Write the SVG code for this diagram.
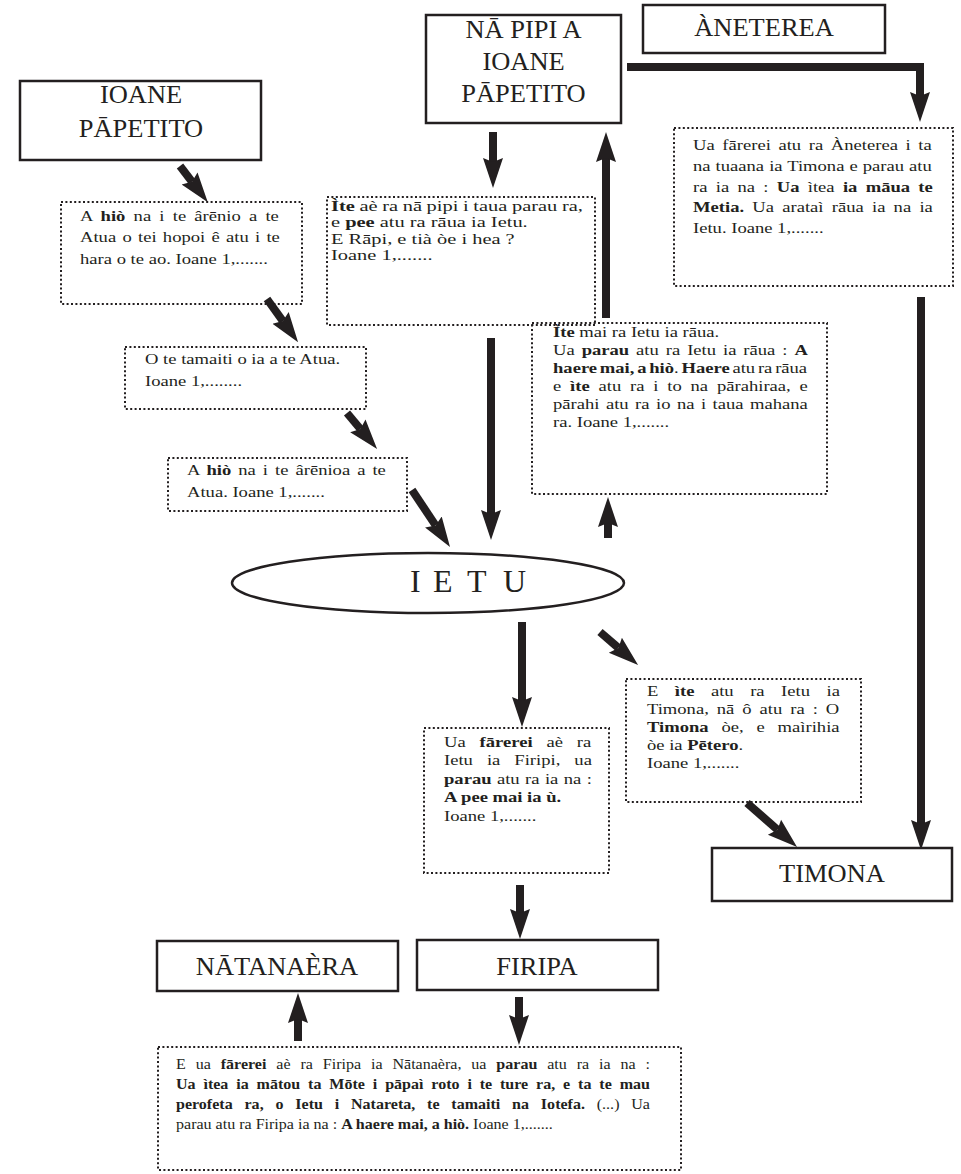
<svg xmlns="http://www.w3.org/2000/svg" width="961" height="1174" viewBox="0 0 961 1174">
<style>
.t{font-family:"Liberation Serif","Times New Roman",serif;font-size:15.5px;fill:#231f20}
.s14{font-size:14.8px}
.s15{font-size:15px}
.b{font-weight:bold}
.ti{font-family:"Liberation Serif","Times New Roman",serif;font-size:24.5px;fill:#231f20;text-anchor:middle}
.box{fill:#fff;stroke:#231f20;stroke-width:2.5}
.dot{fill:none;stroke:#231f20;stroke-width:2;stroke-dasharray:2 2.4}
.ar{fill:none;stroke:#231f20;stroke-width:8;stroke-linejoin:miter;marker-end:url(#ah)}
</style>
<defs>
<marker id="ah" markerUnits="userSpaceOnUse" viewBox="0 -11 30 22" markerWidth="30" markerHeight="22" refX="4" refY="0" orient="auto">
<path d="M0,-10 L30,0 L0,10 L4,0 Z" fill="#231f20"/>
</marker>
</defs>
<rect width="961" height="1174" fill="#fff"/>

<g id="connectors">
<path class="ar" d="M180,166 L192,181.7"/>
<path class="ar" d="M267,299 L282.9,321.1"/>
<path class="ar" d="M347,413 L360.4,429"/>
<path class="ar" d="M412,490 L435.6,525.4"/>
<path class="ar" d="M493,132 L493,162"/>
<path class="ar" d="M491,338 L491,514"/>
<path class="ar" d="M606,318 L606,158"/>
<path class="ar" d="M608,538 L608,523"/>
<path class="ar" d="M627,67 L920,67 L920,96"/>
<path class="ar" d="M921,297 L921,824"/>
<path class="ar" d="M522,622 L522,701"/>
<path class="ar" d="M600,632 L618.4,647.9"/>
<path class="ar" d="M747,803 L777.5,829.8"/>
<path class="ar" d="M520,885 L520,913"/>
<path class="ar" d="M298,1041 L298,1019"/>
<path class="ar" d="M519,997 L519,1019"/>
</g>

<g id="ioane-papetito">
<rect class="box" x="20" y="81" width="241" height="79"/>
<g transform="matrix(1.08 0 0 1 141 0)">
<text class="ti" x="0" y="103">IOANE</text>
<text class="ti" x="0" y="137">PĀPETITO</text>
</g>
</g>

<g id="na-pipi">
<rect class="box" x="426" y="15" width="195" height="108"/>
<g transform="matrix(1.08 0 0 1 523.5 0)">
<text class="ti" x="0" y="38">NĀ PIPI A</text>
<text class="ti" x="0" y="70">IOANE</text>
<text class="ti" x="0" y="102">PĀPETITO</text>
</g>
</g>

<g id="aneterea">
<rect class="box" x="643" y="5" width="242" height="48"/>
<text class="ti" x="0" y="36" transform="matrix(1.08 0 0 1 764 0)">ÀNETEREA</text>
</g>

<g id="text-hio-1">
<rect class="dot" x="61" y="202" width="241" height="102"/>
<g transform="matrix(1.2 0 0 1 80 0)">
<text class="t" x="0" y="221" style="word-spacing:2.96px">A <tspan class="b">hiò</tspan> na i te ârēnio a te</text>
<text class="t" x="0" y="242" style="word-spacing:1.36px">Atua o tei hopoi ê atu i te</text>
<text class="t" x="0" y="264">hara o te ao. Ioane 1,.......</text>
</g>
</g>

<g id="text-tamaiti">
<rect class="dot" x="125" y="347" width="241" height="62"/>
<g transform="matrix(1.2 0 0 1 145 0)">
<text class="t" x="0" y="364">O te tamaiti o ia a te Atua.</text>
<text class="t" x="0" y="386">Ioane 1,........</text>
</g>
</g>

<g id="text-hio-2">
<rect class="dot" x="168" y="458" width="239" height="53"/>
<g transform="matrix(1.2 0 0 1 187 0)">
<text class="t" x="0" y="475" style="word-spacing:1.98px">A <tspan class="b">hiò</tspan> na i te ârēnioa a te</text>
<text class="t" x="0" y="497">Atua. Ioane 1,.......</text>
</g>
</g>

<g id="text-ite-ae">
<rect class="dot" x="327" y="197" width="268" height="128"/>
<g transform="matrix(1.38 0 0 1 331 0)">
<text class="t s14" x="0" y="211" style="word-spacing:-0.34px"><tspan class="b">Ìte</tspan> aè ra nā pipi i taua parau ra,</text>
<text class="t s14" x="0" y="227.5">e <tspan class="b">pee</tspan> atu ra rāua ia Ietu.</text>
<text class="t s14" x="0" y="244">E Rāpi, e tià òe i hea ?</text>
<text class="t s14" x="0" y="260.5">Ioane 1,.......</text>
</g>
</g>

<g id="text-aneterea">
<rect class="dot" x="674" y="128" width="279" height="158"/>
<g transform="matrix(1.2 0 0 1 693 0)">
<text class="t" x="0" y="150" style="word-spacing:2.49px">Ua fārerei atu ra Àneterea i ta</text>
<text class="t" x="0" y="171" style="word-spacing:0.33px">na tuaana ia Timona e parau atu</text>
<text class="t" x="0" y="192" style="word-spacing:3.04px">ra ia na : <tspan class="b">Ua</tspan> ìtea <tspan class="b">ia māua te</tspan></text>
<text class="t" x="0" y="212" style="word-spacing:2.99px"><tspan class="b">Metia.</tspan> Ua arataì rāua ia na ia</text>
<text class="t" x="0" y="233">Ietu.  Ioane 1,.......</text>
</g>
</g>

<g id="text-ite-mai">
<rect class="dot" x="532" y="323" width="295" height="171"/>
<g transform="matrix(1.2 0 0 1 553 0)">
<text class="t" x="0" y="337"><tspan class="b">Ìte</tspan> mai ra Ietu ia rāua.</text>
<text class="t" x="0" y="355" style="word-spacing:1.92px">Ua <tspan class="b">parau</tspan> atu ra Ietu ia rāua : <tspan class="b">A</tspan></text>
<text class="t" x="0" y="373" style="word-spacing:-1.56px"><tspan class="b">haere mai, a hiò</tspan>. <tspan class="b">Haere</tspan> atu ra rāua</text>
<text class="t" x="0" y="391" style="word-spacing:3.48px">e <tspan class="b">ìte</tspan> atu ra i to na pārahiraa, e</text>
<text class="t" x="0" y="409" style="word-spacing:1.52px">pārahi atu ra io na i taua mahana</text>
<text class="t" x="0" y="427">ra. Ioane 1,.......</text>
</g>
</g>

<g id="ietu">
<ellipse cx="428" cy="583" rx="196" ry="30" fill="#fff" stroke="#231f20" stroke-width="2.5"/>
<text class="t" x="410 433 467 503" y="592" style="font-size:32px">IETU</text>
</g>

<g id="text-firipi">
<rect class="dot" x="424" y="728" width="185" height="145"/>
<g transform="matrix(1.2 0 0 1 444 0)">
<text class="t" x="0" y="747" style="word-spacing:7.69px">Ua <tspan class="b">fārerei</tspan> aè ra</text>
<text class="t" x="0" y="765.5" style="word-spacing:7.81px">Ietu ia Firipi, ua</text>
<text class="t" x="0" y="784" style="word-spacing:0.65px"><tspan class="b">parau</tspan> atu ra ia na :</text>
<text class="t b" x="0" y="802.5">A pee mai ia ù.</text>
<text class="t" x="0" y="821">Ioane 1,.......</text>
</g>
</g>

<g id="text-timona">
<rect class="dot" x="626" y="679" width="235" height="123"/>
<g transform="matrix(1.2 0 0 1 647 0)">
<text class="t" x="0" y="696" style="word-spacing:9.87px">E <tspan class="b">ìte</tspan> atu ra Ietu ia</text>
<text class="t" x="0" y="714" style="word-spacing:2.77px">Timona, nā ô atu ra : O</text>
<text class="t" x="0" y="732" style="word-spacing:6.83px"><tspan class="b">Timona</tspan> òe, e maìrihia</text>
<text class="t" x="0" y="750">òe ia <tspan class="b">Pētero</tspan>.</text>
<text class="t" x="0" y="768">Ioane 1,.......</text>
</g>
</g>

<g id="timona">
<rect class="box" x="712" y="848" width="240" height="53"/>
<text class="ti" x="0" y="882" transform="matrix(1.08 0 0 1 832 0)">TIMONA</text>
</g>

<g id="natanaera">
<rect class="box" x="157" y="941" width="241" height="50"/>
<text class="ti" x="0" y="975" transform="matrix(1.08 0 0 1 277 0)">NĀTANAÈRA</text>
</g>

<g id="firipa">
<rect class="box" x="417" y="940" width="241" height="50"/>
<text class="ti" x="0" y="975" transform="matrix(1.08 0 0 1 537 0)">FIRIPA</text>
</g>

<g id="text-natanaera">
<rect class="dot" x="158" y="1047" width="523" height="123"/>
<g transform="matrix(1.07 0 0 1 176 0)">
<text class="t s15" x="0" y="1069" style="word-spacing:5.5px">E ua <tspan class="b">fārerei</tspan> aè ra Firipa ia Nātanaèra, ua <tspan class="b">parau</tspan> atu ra ia na :</text>
<text class="t s15 b" x="0" y="1089" style="word-spacing:3.61px">Ua ìtea ia mātou ta Mōte i pāpaì roto i te ture ra, e ta te mau</text>
<text class="t s15" x="0" y="1109" style="word-spacing:7.3px"><tspan class="b">perofeta ra, o Ietu i Natareta, te tamaiti na Iotefa.</tspan> (...) Ua</text>
<text class="t s15" x="0" y="1129">parau atu ra Firipa ia na : <tspan class="b">A haere mai, a hiò.</tspan> Ioane 1,.......</text>
</g>
</g>
</svg>
